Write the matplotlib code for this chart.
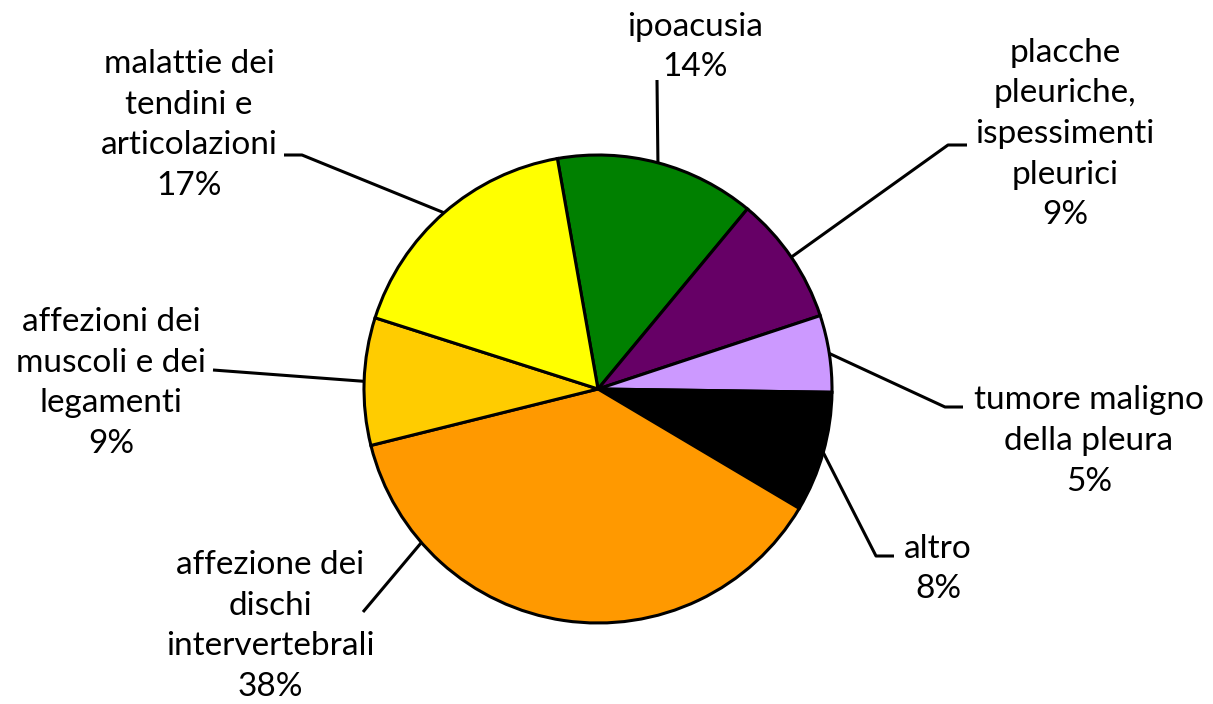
import matplotlib.pyplot as plt
import numpy as np

categories = [
    "ipoacusia",
    "placche\npleuriche,\nispessimenti\npleurici",
    "tumore maligno\ndella pleura",
    "altro",
    "affezione dei\ndischi\nintervertebrali",
    "affezioni dei\nmuscoli e dei\nlegamenti",
    "malattie dei\ntendini e\narticolazioni",
]
shares = [13.8, 8.9, 5.3, 8.3, 37.6, 8.8, 17.3]
pct_labels = ["14%", "9%", "5%", "8%", "38%", "9%", "17%"]
colors = ["#008000", "#660066", "#CC99FF", "#000000", "#FF9900", "#FFCC00", "#FFFF00"]

W, H = 1213, 704

# label block centres, leader elbows and leader ends, in pixels (y down)
label_pos = [(695, 47), (1065, 134), (1089, 441), (938, 569), (270, 626), (111, 383), (189, 125)]
elbows = [None, (948, 145), (945, 407), (876, 556), None, None, (302, 155)]
ends = [(657, 80), (967, 145), (963, 407), (894, 556), (363, 612), (213, 370), (284, 155)]
# angle where the leader touches the pie, None = middle of the slice
anchor_angle = [None, None, None, None, -139, None, None]

plt.rcParams['font.family'] = ['Lato', 'DejaVu Sans']

fig = plt.figure(figsize=(W / 100, H / 100), dpi=100)
ax = fig.add_axes([0, 0, 1, 1])

cx, cy, r = 598, H - 389, 234
wedges, _ = ax.pie(shares, colors=colors, startangle=100, counterclock=False,
                   center=(cx, cy), radius=r,
                   wedgeprops=dict(edgecolor='black', linewidth=2.2))
ax.set_xlim(0, W)
ax.set_ylim(0, H)
ax.set_aspect('equal')
ax.axis('off')

for i, w in enumerate(wedges):
    ang = anchor_angle[i] if anchor_angle[i] is not None else (w.theta1 + w.theta2) / 2
    ang = np.deg2rad(ang)
    sx, sy = cx + r * np.cos(ang), cy + r * np.sin(ang)
    pts = [(sx, sy)]
    if elbows[i] is not None:
        pts.append((elbows[i][0], H - elbows[i][1]))
    pts.append((ends[i][0], H - ends[i][1]))
    xs, ys = zip(*pts)
    ax.plot(xs, ys, color='black', linewidth=2.2, solid_capstyle='butt')
    lx, ly = label_pos[i]
    ax.text(lx, H - ly, categories[i] + "\n" + pct_labels[i], ha='center', va='center',
            multialignment='center', fontsize=24, linespacing=1.44, color='black')

fig.savefig("out.png", dpi=100)
